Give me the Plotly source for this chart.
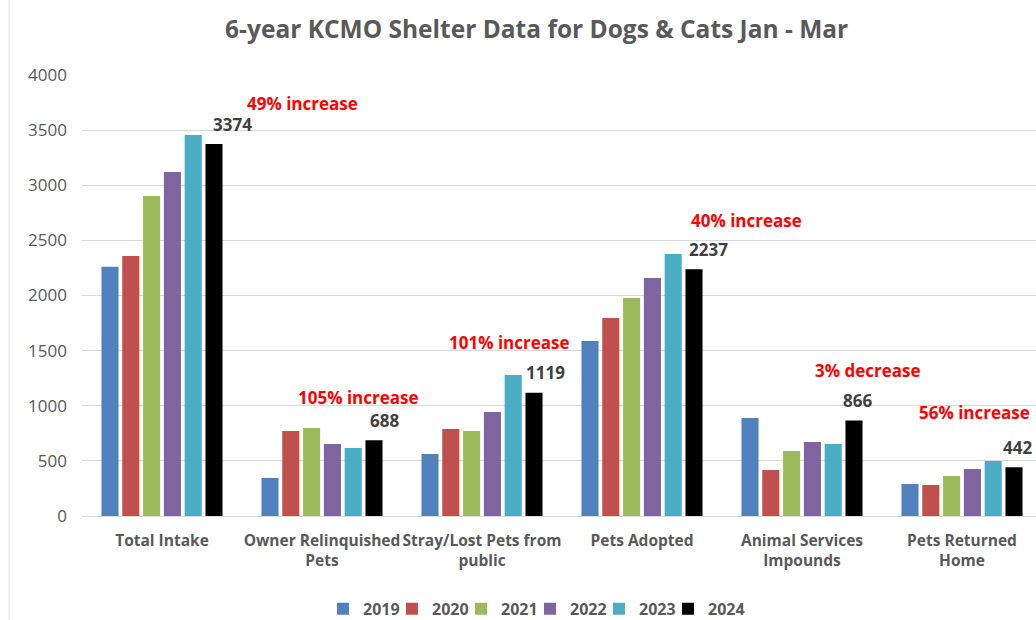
import plotly.graph_objects as go

categories = ["Total Intake", "Owner Relinquished<br>Pets", "Stray/Lost Pets from<br>public",
              "Pets Adopted", "Animal Services<br>Impounds", "Pets Returned<br>Home"]
years = ["2019", "2020", "2021", "2022", "2023", "2024"]
v2019 = [2260, 345, 562, 1587, 888, 290]
v2020 = [2358, 771, 789, 1796, 417, 281]
v2021 = [2902, 798, 771, 1977, 590, 363]
v2022 = [3120, 653, 943, 2159, 671, 426]
v2023 = [3456, 617, 1279, 2376, 653, 499]
v2024 = [3374, 688, 1119, 2237, 866, 442]
change_labels = ["49% increase", "105% increase", "101% increase",
                 "40% increase", "3% decrease", "56% increase"]
yticks = [0, 500, 1000, 1500, 2000, 2500, 3000, 3500, 4000]

series = [v2019, v2020, v2021, v2022, v2023, v2024]
colors = ["#4F81BD", "#C0504D", "#9BBB59", "#8064A2", "#4BACC6", "#000000"]

FONT = "'Open Sans', sans-serif"

fig = go.Figure()
xs = list(range(len(categories)))
for yr, vals, c in zip(years, series, colors):
    fig.add_trace(go.Bar(x=xs, y=vals, name="<b>" + yr + "</b>",
                         marker=dict(color=c, line=dict(width=0))))
# invisible spacer entry so the last legend label is not clipped
fig.add_trace(go.Scatter(x=[None], y=[None], mode="markers", name=" ",
                         marker=dict(color="rgba(0,0,0,0)"), hoverinfo="skip"))

# annotation placement (style): category-index offsets and heights in data units
change_pos = [(0.875, 3746), (1.23, 1079), (2.17, 1578), (3.65, 2676), (4.41, 1324), (5.08, 943)]
value_dx = [0.4375, 1.3875, 2.394, 3.4125, 4.344, 5.344]

for i, lab in enumerate(change_labels):
    fig.add_annotation(x=change_pos[i][0], y=change_pos[i][1], text="<b>" + lab + "</b>",
                       showarrow=False, font=dict(color="#FF0000", size=17, family=FONT),
                       xref="x", yref="y")
    fig.add_annotation(x=value_dx[i], y=v2024[i], text="<b>" + str(v2024[i]) + "</b>",
                       showarrow=False, yshift=20, font=dict(color="#404040", size=17, family=FONT),
                       xref="x", yref="y")

fig.update_layout(
    width=1036, height=620,
    margin=dict(l=82, r=0, t=75, b=104, autoexpand=False),
    paper_bgcolor="white", plot_bgcolor="white",
    title=dict(text="<b>6-year KCMO Shelter Data for Dogs &amp; Cats Jan - Mar</b>",
               x=0.518, xanchor="center", y=0.952, yanchor="middle",
               font=dict(size=24.5, color="#595959", family=FONT)),
    barmode="group", bargap=0.22, bargroupgap=0.18,
    font=dict(family=FONT, color="#595959"),
    legend=dict(orientation="h", x=0.2526, xanchor="left", yref="container", y=0.018,
                yanchor="middle",
                font=dict(size=16, color="#595959", family=FONT), itemwidth=30,
                entrywidth=24, traceorder="normal"),
    xaxis=dict(tickmode="array", tickvals=xs, ticktext=["<b>" + c + "</b>" for c in categories],
               range=[-0.5, 5.4625], showgrid=False, showline=True, linecolor="#D9D9D9",
               ticks="", ticklabelstandoff=10, automargin=False,
               tickfont=dict(size=15.5, color="#595959", family=FONT), zeroline=False),
    yaxis=dict(range=[0, 4000], tickvals=yticks, showgrid=True, gridcolor="#D9D9D9",
               gridwidth=1, zeroline=False, ticks="", ticklabelstandoff=14, automargin=False,
               tickfont=dict(size=17, color="#595959", family=FONT)),
)

fig.add_shape(type="line", xref="paper", yref="paper", x0=-0.0765, x1=-0.0765, y0=-0.24, y1=1.17,
              line=dict(color="#E6E6E6", width=1))

fig.write_html("out.html")
